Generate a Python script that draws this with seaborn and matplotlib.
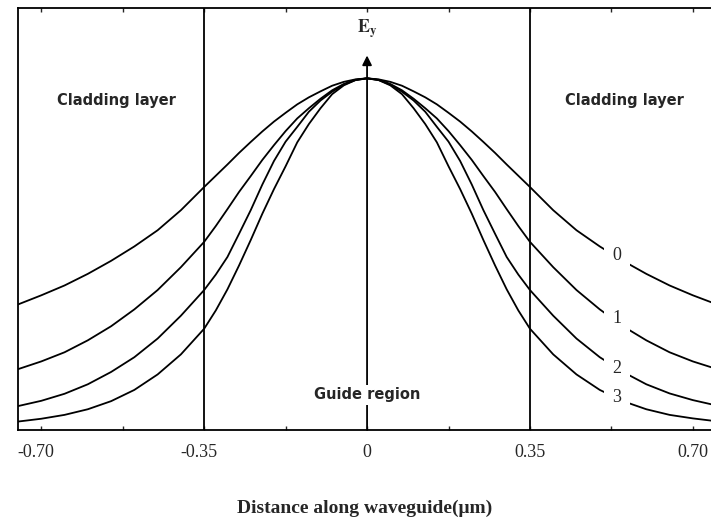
import numpy as np
import pandas as pd
import matplotlib
matplotlib.use("Agg")
import matplotlib.pyplot as plt
import matplotlib.transforms as mtransforms
import seaborn as sns

# ---- data ----
x_left = [-0.75, -0.70, -0.65, -0.60, -0.55, -0.50, -0.45, -0.40, -0.35,
          -0.325, -0.30, -0.275, -0.25, -0.225, -0.20, -0.175, -0.15,
          -0.125, -0.10, -0.075, -0.05, -0.025, 0.0]
mode0_left = [0.357, 0.383, 0.411, 0.444, 0.481, 0.522, 0.568, 0.625, 0.691,
              0.723, 0.755, 0.788, 0.819, 0.849, 0.877, 0.902, 0.926,
              0.946, 0.963, 0.979, 0.990, 0.997, 1.0]
mode1_left = [0.173, 0.195, 0.221, 0.255, 0.295, 0.343, 0.398, 0.463, 0.535,
              0.580, 0.628, 0.677, 0.722, 0.768, 0.810, 0.850, 0.886,
              0.915, 0.942, 0.966, 0.984, 0.996, 1.0]
mode2_left = [0.068, 0.083, 0.103, 0.130, 0.165, 0.207, 0.260, 0.325, 0.398,
              0.442, 0.492, 0.558, 0.625, 0.698, 0.765, 0.820, 0.862,
              0.905, 0.937, 0.962, 0.982, 0.995, 1.0]
mode3_left = [0.024, 0.032, 0.043, 0.059, 0.082, 0.114, 0.158, 0.215, 0.288,
              0.340, 0.400, 0.468, 0.540, 0.615, 0.685, 0.750, 0.818,
              0.870, 0.915, 0.955, 0.980, 0.995, 1.0]

x_right = [0.025, 0.05, 0.075, 0.10, 0.125, 0.15, 0.175, 0.20, 0.225, 0.25,
           0.275, 0.30, 0.325, 0.35, 0.40, 0.45, 0.50, 0.55, 0.60, 0.65,
           0.70, 0.75]
mode0_right = [0.997, 0.990, 0.979, 0.963, 0.946, 0.926, 0.902, 0.877, 0.849,
               0.819, 0.788, 0.755, 0.723, 0.691, 0.625, 0.568, 0.522, 0.481,
               0.444, 0.411, 0.383, 0.358]
mode1_right = [0.996, 0.984, 0.966, 0.942, 0.915, 0.886, 0.850, 0.810, 0.768,
               0.722, 0.677, 0.628, 0.580, 0.535, 0.463, 0.398, 0.343, 0.295,
               0.255, 0.221, 0.195, 0.174]
mode2_right = [0.995, 0.982, 0.962, 0.937, 0.905, 0.862, 0.820, 0.765, 0.698,
               0.625, 0.558, 0.492, 0.442, 0.398, 0.325, 0.260, 0.207, 0.165,
               0.130, 0.104, 0.085, 0.070]
mode3_right = [0.995, 0.980, 0.955, 0.915, 0.870, 0.818, 0.750, 0.685, 0.615,
               0.540, 0.468, 0.400, 0.340, 0.288, 0.215, 0.158, 0.114, 0.082,
               0.059, 0.043, 0.033, 0.025]

modes = ["0", "1", "2", "3"]
label_x = 0.537
label_y = [0.497, 0.318, 0.176, 0.091]

tick_vals = [-0.70, -0.35, 0.0, 0.35, 0.70]
tick_labels = ["-0.70", "-0.35", "0", "0.35", "0.70"]
boundaries = [-0.35, 0.35]

# ---- build long-form table ----
rows = []
series = {
    "0": mode0_left + mode0_right,
    "1": mode1_left + mode1_right,
    "2": mode2_left + mode2_right,
    "3": mode3_left + mode3_right,
}
xs = x_left + x_right
for m in modes:
    for xv, yv in zip(xs, series[m]):
        rows.append({"x": xv, "E": yv, "mode": m})
df = pd.DataFrame(rows)

sns.set_style("white")
plt.rcParams["font.family"] = ["Liberation Serif", "DejaVu Serif"]
plt.rcParams["mathtext.fontset"] = "stix"

fig = plt.figure(figsize=(7.11, 5.18), dpi=100)
ax = fig.add_axes([18 / 711, 88 / 518, 1 - 18 / 711, 422 / 518])

sns.lineplot(data=df, x="x", y="E", hue="mode", estimator=None, sort=True,
             palette=["black"] * 4, linewidth=1.3, legend=False, ax=ax)

for b in boundaries:
    ax.axvline(b, color="black", lw=1.3)

ax.set_xlim(-0.75, 0.739)
ax.set_ylim(0, 1.2)

# arrow for E_y
ax.annotate("", xy=(0, 1.065), xytext=(0, 0),
            arrowprops=dict(arrowstyle="-|>", color="black", lw=1.3,
                            mutation_scale=14, shrinkA=0, shrinkB=0))
ax.text(0, 1.14, r"$\mathbf{E}_\mathbf{y}$", ha="center", va="center", fontsize=13)

# region labels
ax.text(-0.538, 0.938, "Cladding layer", ha="center", va="center",
        fontsize=10.5, fontweight="bold", family="DejaVu Sans")
ax.text(0.552, 0.938, "Cladding layer", ha="center", va="center",
        fontsize=10.5, fontweight="bold", family="DejaVu Sans")
ax.text(0.0, 0.10, "Guide region", ha="center", va="center",
        fontsize=10.5, fontweight="bold", family="DejaVu Sans",
        bbox=dict(facecolor="white", edgecolor="none", pad=2))

for m, ly in zip(modes, label_y):
    ax.text(label_x, ly, m, ha="center", va="center", fontsize=13,
            bbox=dict(facecolor="white", edgecolor="none", pad=6))

# axes styling
for side in ["left", "top", "bottom"]:
    ax.spines[side].set_visible(True)
    ax.spines[side].set_color("black")
    ax.spines[side].set_linewidth(1.3)
ax.spines["right"].set_visible(False)

ax.set_yticks([])
ax.set_ylabel("")
ax.set_xticks(tick_vals)
ax.set_xticklabels(tick_labels, fontsize=13)
ax.set_xticks([-0.525, -0.175, 0.175, 0.525], minor=True)
ax.tick_params(axis="x", which="both", direction="in", top=True, bottom=True,
               length=3, width=1.0, pad=10)
offset = mtransforms.ScaledTranslation(-5 / 100, 0, fig.dpi_scale_trans)
for lab in ax.get_xticklabels():
    if lab.get_text().startswith("-"):
        lab.set_transform(lab.get_transform() + offset)
ax.set_xlabel("Distance along waveguide(μm)", fontsize=14, fontweight="bold",
              labelpad=28)

fig.savefig("out.png", dpi=100, facecolor="white")
